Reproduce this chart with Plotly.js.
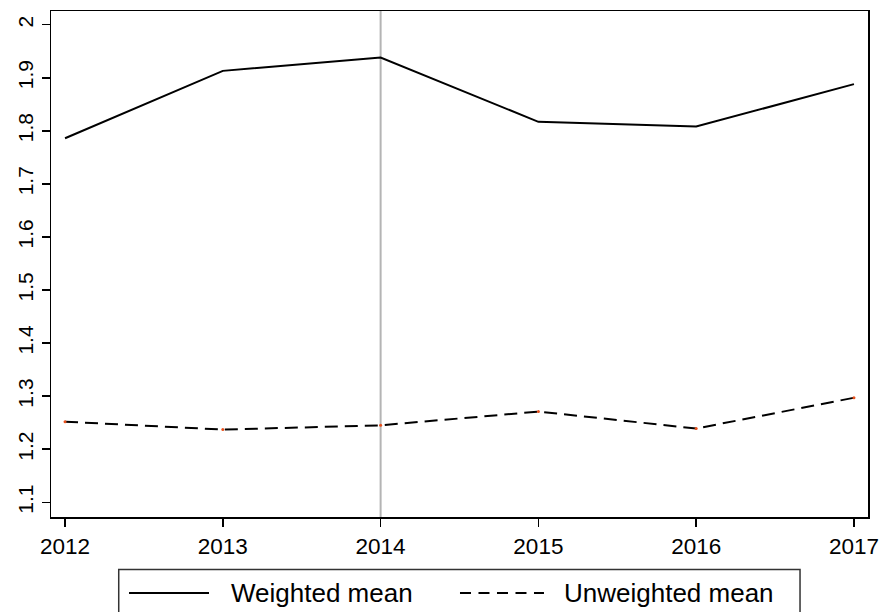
<!DOCTYPE html>
<html>
<head>
<meta charset="utf-8">
<script src="https://cdn.plot.ly/plotly-3.0.1.min.js"></script>
<style>
  html, body { margin: 0; padding: 0; background: #ffffff; }
  #chart { width: 882px; height: 612px; }
</style>
</head>
<body>
<div id="chart"></div>
<script>
// Yearly means, 2012-2017
const years = [2012, 2013, 2014, 2015, 2016, 2017];
const weightedMean = [1.786, 1.913, 1.938, 1.817, 1.808, 1.888];
const unweightedMean = [1.252, 1.237, 1.245, 1.271, 1.239, 1.297];
const seriesNames = ['Weighted mean', 'Unweighted mean'];
const yTicks = [1.1, 1.2, 1.3, 1.4, 1.5, 1.6, 1.7, 1.8, 1.9, 2];
const yTickText = ['1.1', '1.2', '1.3', '1.4', '1.5', '1.6', '1.7', '1.8', '1.9', '2'];
const referenceYear = 2014;

const FONT = 'Liberation Sans, Arial, Helvetica, sans-serif';

const traces = [
  {
    x: years, y: weightedMean, name: seriesNames[0],
    type: 'scatter', mode: 'lines',
    line: { color: '#000000', width: 2 },
    showlegend: false, hoverinfo: 'skip'
  },
  {
    x: years, y: unweightedMean, name: seriesNames[1],
    type: 'scatter', mode: 'lines+markers',
    line: { color: '#000000', width: 2, dash: '13px,7px' },
    marker: { color: '#e8501c', size: 3 },
    showlegend: false, hoverinfo: 'skip'
  }
];

// Key below the plot: border, line samples, labels
const keyTop = -0.1038, keyBottom = -0.25, keyLeft = 0.0829, keyRight = 0.9168;
const keyY = -0.150;
const shapes = [
  {
    type: 'line', xref: 'x', yref: 'paper',
    x0: referenceYear, x1: referenceYear, y0: 0, y1: 1,
    line: { color: '#b4b4b4', width: 2 }, layer: 'below'
  },
  {
    type: 'rect', xref: 'paper', yref: 'paper',
    x0: keyLeft, x1: keyRight, y0: keyBottom, y1: keyTop,
    line: { color: '#333333', width: 1.5 }, fillcolor: 'rgba(0,0,0,0)'
  },
  {
    type: 'line', xref: 'paper', yref: 'paper',
    x0: 0.0955, x1: 0.1934, y0: keyY, y1: keyY,
    line: { color: '#000000', width: 2 }
  },
  {
    type: 'line', xref: 'paper', yref: 'paper',
    x0: 0.5006, x1: 0.6034, y0: keyY, y1: keyY,
    line: { color: '#000000', width: 2, dash: '11px,7.5px' }
  }
];

const annotations = [
  {
    xref: 'paper', yref: 'paper', x: 0.2179, y: keyY,
    xanchor: 'left', yanchor: 'middle', showarrow: false,
    text: seriesNames[0], font: { family: FONT, size: 26, color: '#000000' }
  },
  {
    xref: 'paper', yref: 'paper', x: 0.6255, y: keyY,
    xanchor: 'left', yanchor: 'middle', showarrow: false,
    text: seriesNames[1], font: { family: FONT, size: 26, color: '#000000' }
  }
];

const layout = {
  width: 882, height: 612,
  margin: { l: 51, r: 14, t: 11, b: 95, pad: 0 },
  paper_bgcolor: '#ffffff', plot_bgcolor: '#ffffff',
  font: { family: FONT, size: 21, color: '#000000' },
  showlegend: false,
  xaxis: {
    range: [2011.911, 2017.089],
    tickvals: years, ticktext: years.map(String),
    ticks: 'outside', ticklen: 8, tickwidth: 1.5, tickcolor: '#000000',
    showgrid: false, zeroline: false,
    showline: true, mirror: true, linecolor: '#000000', linewidth: 1.5,
    tickfont: { family: FONT, size: 22.5, color: '#000000' }
  },
  yaxis: {
    range: [1.0723, 2.0258],
    tickvals: yTicks, ticktext: yTickText, tickangle: -90,
    ticks: 'outside', ticklen: 8, tickwidth: 1.5, tickcolor: '#000000',
    showgrid: false, zeroline: false,
    showline: true, mirror: true, linecolor: '#000000', linewidth: 1.5,
    tickfont: { family: FONT, size: 21, color: '#000000' }
  },
  shapes: shapes,
  annotations: annotations
};

Plotly.newPlot('chart', traces, layout, { staticPlot: true, displayModeBar: false });
</script>
</body>
</html>
